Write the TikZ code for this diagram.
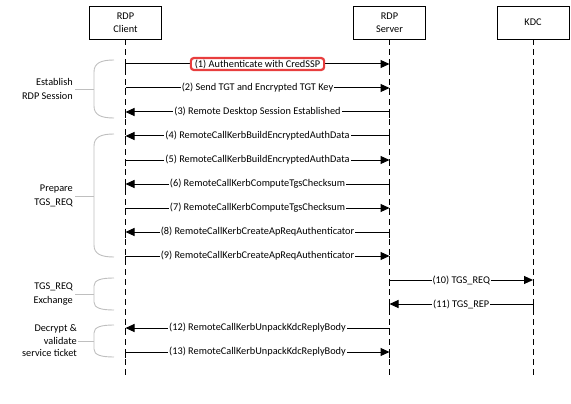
\documentclass[tikz,border=0pt]{standalone}
\usepackage{fontspec}
\setmainfont{Carlito}
\usetikzlibrary{arrows.meta}
\definecolor{credred}{RGB}{232,62,62}
\definecolor{bracegray}{RGB}{191,191,191}
\begin{document}
\begin{tikzpicture}[x=1pt,y=-1pt,
  actor/.style={draw=black, line width=0.9pt, minimum width=72pt, minimum height=33pt, align=center, inner sep=0pt, font=\fontsize{10.3}{13.5}\selectfont},
  life/.style={draw=black, line width=0.9pt, dash pattern=on 6pt off 4pt},
  msg/.style={draw=black, line width=1pt, -{Triangle[length=9pt,width=8pt]}},
  tick/.style={draw=black, line width=1pt},
  lbl/.style={fill=white, inner xsep=1pt, inner ysep=1pt, font=\fontsize{10.3}{12}\selectfont},
  hilite/.style={draw=credred, line width=2.2pt, rounded corners=3pt, inner xsep=4pt, inner ysep=1.5pt},
  grp/.style={align=right, inner xsep=2pt, inner ysep=0pt, font=\fontsize{10.3}{13.5}\selectfont},
  brace/.style={draw=bracegray, line width=0.9pt}
]
\useasboundingbox (0,0) rectangle (571,404);

% actors
\node[actor] (client) at (125.5,22.5) {RDP\\Client};
\node[actor] (server) at (389.5,22.5) {RDP\\Server};
\node[actor] (kdc) at (533,22.5) {KDC};

\coordinate (cend) at (125.5,377);
\coordinate (send) at (389.5,377);
\coordinate (kend) at (533,377);
\draw[life] (client.south) -- (cend);
\draw[life] (server.south) -- (send);
\draw[life] (kdc.south) -- (kend);

% message anchor points
\foreach \i/\y in {1/64,2/88,3/112,4/136,5/160,6/184,7/208,8/232,9/256,10/280,11/304,12/328,13/352}{
  \coordinate (c\i) at (125.5,\y);
  \coordinate (s\i) at (389.5,\y);
  \coordinate (k\i) at (533,\y);
}

% ticks
\foreach \i in {1,...,9,12,13}{
  \draw[tick] (c\i) -- ++(0,6);
  \draw[tick] (s\i) -- ++(0,6);
}
\foreach \i in {10,11}{
  \draw[tick] (s\i) -- ++(0,6);
  \draw[tick] (k\i) -- ++(0,6);
}

% messages
\draw[msg] (c1) -- (s1) node[midway, lbl, hilite] (m1) {(1) Authenticate with CredSSP};
\draw[msg] (c2) -- (s2) node[midway, lbl] (m2) {(2) Send TGT and Encrypted TGT Key};
\draw[msg] (s3) -- (c3) node[midway, lbl] (m3) {(3) Remote Desktop Session Established};
\draw[msg] (s4) -- (c4) node[midway, lbl] (m4) {(4) RemoteCallKerbBuildEncryptedAuthData};
\draw[msg] (c5) -- (s5) node[midway, lbl] (m5) {(5) RemoteCallKerbBuildEncryptedAuthData};
\draw[msg] (s6) -- (c6) node[midway, lbl] (m6) {(6) RemoteCallKerbComputeTgsChecksum};
\draw[msg] (c7) -- (s7) node[midway, lbl] (m7) {(7) RemoteCallKerbComputeTgsChecksum};
\draw[msg] (s8) -- (c8) node[midway, lbl] (m8) {(8) RemoteCallKerbCreateApReqAuthenticator};
\draw[msg] (c9) -- (s9) node[midway, lbl] (m9) {(9) RemoteCallKerbCreateApReqAuthenticator};
\draw[msg] (s10) -- (k10) node[midway, lbl] (m10) {(10) TGS\_REQ};
\draw[msg] (k11) -- (s11) node[midway, lbl] (m11) {(11) TGS\_REP};
\draw[msg] (s12) -- (c12) node[midway, lbl] (m12) {(12) RemoteCallKerbUnpackKdcReplyBody};
\draw[msg] (c13) -- (s13) node[midway, lbl] (m13) {(13) RemoteCallKerbUnpackKdcReplyBody};

% group labels and braces
\node[grp, anchor=east] (g1) at (75,89) {Establish\\RDP Session};
\coordinate (b1) at (94,89);
\draw[brace] (g1.east) -- (b1);
\draw[brace] (114,60) .. controls (101,60) and (94,63) .. (94,72) -- (94,106) .. controls (94,115) and (101,118) .. (114,118);

\node[grp, anchor=east] (g2) at (75,196) {Prepare\\TGS\_REQ};
\coordinate (b2) at (94,196);
\draw[brace] (g2.east) -- (b2);
\draw[brace] (114,134) .. controls (101,134) and (94,137) .. (94,146) -- (94,245) .. controls (94,254) and (101,257) .. (114,257);

\node[grp, anchor=east] (g3) at (75,294) {TGS\_REQ\\Exchange};
\coordinate (b3) at (94,294);
\draw[brace] (g3.east) -- (b3);
\draw[brace] (114,278) .. controls (101,278) and (94,280) .. (94,286) -- (94,302) .. controls (94,308) and (101,310) .. (114,310);

\node[grp, anchor=east, inner xsep=1pt, font=\fontsize{10.3}{12.5}\selectfont] (g4) at (78,341) {Decrypt \&\\validate\\service ticket};
\coordinate (b4) at (94,341);
\draw[brace] (g4.east) -- (b4);
\draw[brace] (114,325) .. controls (101,325) and (94,327) .. (94,333) -- (94,349) .. controls (94,355) and (101,357) .. (114,357);

\end{tikzpicture}
\end{document}
